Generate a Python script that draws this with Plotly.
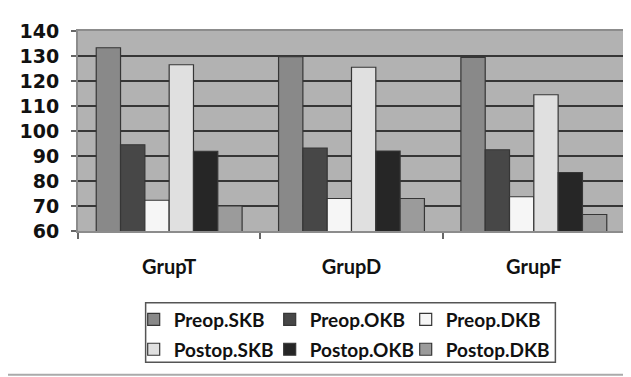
import plotly.graph_objects as go

categories = ["GrupT", "GrupD", "GrupF"]
series_names = ["Preop.SKB", "Preop.OKB", "Preop.DKB", "Postop.SKB", "Postop.OKB", "Postop.DKB"]
preop_skb = [133.3, 129.7, 129.4]
preop_okb = [94.5, 93.2, 92.5]
preop_dkb = [72.3, 73.0, 73.7]
postop_skb = [126.5, 125.5, 114.5]
postop_okb = [91.9, 92.0, 83.4]
postop_dkb = [70.0, 73.0, 66.6]
y_ticks = [60, 70, 80, 90, 100, 110, 120, 130, 140]

values = [preop_skb, preop_okb, preop_dkb, postop_skb, postop_okb, postop_dkb]
colors = ["#898989", "#474747", "#f6f6f6", "#e0e0e0", "#262626", "#9b9b9b"]

FONT = "Lato"

fig = go.Figure()
for i, (name, vals, col) in enumerate(zip(series_names, values, colors)):
    extra = {}
    if i in (2, 5):
        extra["legendwidth"] = 115
    fig.add_trace(go.Bar(
        x=categories, y=vals, name=name,
        marker=dict(color=col, line=dict(color="#363636", width=1.2)),
        legend="legend" if i < 3 else "legend2",
        **extra,
    ))

# The page body has an 8px margin, so the figure is laid out 8px up/left of
# the screen positions. Plot area on screen: x 77..627, y 30..231.
def px_x(p):
    return (p - 77) / 550.0

def px_y(p):
    return (231 - p) / 201.0

legend_common = dict(
    orientation="h", xanchor="left", yanchor="middle",
    font=dict(family=FONT, size=19, color="#111111", weight="bold"),
    bgcolor="rgba(0,0,0,0)", borderwidth=0,
    entrywidth=91, entrywidthmode="pixels",
    itemwidth=30, traceorder="normal",
)

fig.update_layout(
    width=631, height=377,
    margin=dict(l=69, r=12, t=22, b=154),
    paper_bgcolor="white",
    plot_bgcolor="#b2b2b2",
    barmode="group",
    bargap=0.2, bargroupgap=0.0,
    showlegend=True,
    legend=dict(x=px_x(133), y=px_y(320), **legend_common),
    legend2=dict(x=px_x(133), y=px_y(350), **legend_common),
    xaxis=dict(
        type="category",
        showline=True, linecolor="#8c8c8c", linewidth=2, mirror=True,
        ticks="outside", tickson="boundaries", ticklen=6, tickcolor="#666666", tickwidth=1.5,
        tickfont=dict(family=FONT, size=20, color="#111111", weight="bold"),
        ticklabelstandoff=17,
        showgrid=False,
    ),
    yaxis=dict(
        range=[60, 140], tickvals=y_ticks,
        showline=True, linecolor="#8c8c8c", linewidth=2, mirror=True,
        ticks="outside", ticklen=5, tickcolor="#666666", tickwidth=1.5,
        tickfont=dict(family="DejaVu Sans", size=19, color="#111111", weight="bold"),
        ticklabelstandoff=8,
        showgrid=True, gridcolor="#363636", gridwidth=2,
        zeroline=False,
    ),
    shapes=[
        # legend box
        dict(type="rect", xref="paper", yref="paper",
             x0=px_x(145), x1=px_x(557), y0=px_y(363), y1=px_y(303),
             line=dict(color="#555555", width=1.5), fillcolor="rgba(0,0,0,0)", layer="above"),
        # outer frame bottom line
        dict(type="line", xref="paper", yref="paper",
             x0=px_x(4), x1=px_x(640), y0=px_y(375.5), y1=px_y(375.5),
             line=dict(color="#aaaaaa", width=2)),
    ],
)

fig.write_html("out.html")
